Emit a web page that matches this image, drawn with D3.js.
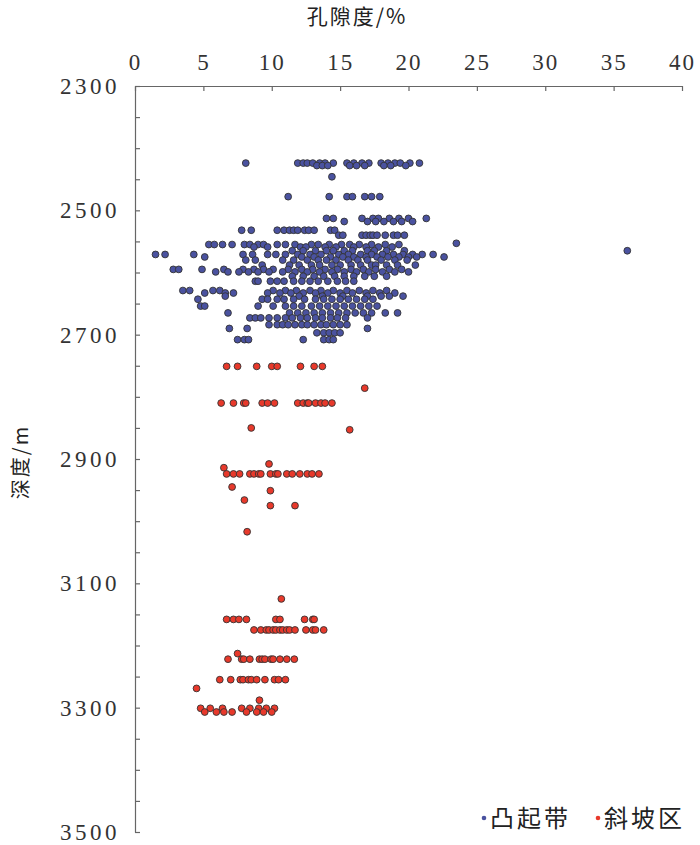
<!DOCTYPE html>
<html>
<head>
<meta charset="utf-8">
<script src="https://cdn.jsdelivr.net/npm/d3@7"></script>
<style>
  body { margin: 0; background: #fff; }
  svg text { fill: #222; }
</style>
</head>
<body>
<svg id="canvas"></svg>
<script>
var w = 700;
var h = 845;

// axis settings
var xTicks = [0, 5, 10, 15, 20, 25, 30, 35, 40];
var yTicks = [2300, 2500, 2700, 2900, 3100, 3300, 3500];
var xTitle = '孔隙度/%';
var yTitle = '深度/m';
var seriesNames = ['凸起带', '斜坡区'];
var seriesColours = ['#4a52a0', '#e8392b'];

// 凸起带: rows of [depth, porosity values]
var upliftRows = [
  [2424, [8.1, 11.9, 12.3, 12.6, 13.0, 13.5, 13.9, 14.5, 15.5, 16.0, 16.6, 17.1, 18.0, 18.5, 19.0, 19.4, 20.1, 20.8]],
  [2428, [13.3, 13.7, 14.1, 15.7, 16.2, 16.8, 18.2, 18.7, 19.8]],
  [2446, [14.4]],
  [2478, [11.2, 14.2, 15.5, 15.9, 16.8, 17.3, 17.9]],
  [2513, [14.0, 14.5, 16.6, 17.4, 17.8, 18.6, 19.3, 20.0, 21.3]],
  [2518, [15.3, 17.0, 17.6, 18.2, 18.9, 19.5, 20.3]],
  [2532, [7.8, 8.5, 10.4, 10.9, 11.3, 11.6, 11.9, 12.4, 12.7, 13.1, 14.3, 14.6]],
  [2540, [14.9, 15.2, 16.6, 16.9, 17.2, 17.4, 17.7, 18.3, 18.9, 19.2, 19.7]],
  [2553, [23.5]],
  [2555, [5.4, 5.8, 6.4, 7.1, 8.0, 8.4, 9.0, 9.4, 10.4, 11.0, 11.7, 12.9, 13.4, 14.2, 15.1, 15.7, 16.4, 17.3, 18.3, 19.3]],
  [2559, [8.7, 9.7, 12.1, 12.5, 13.9, 14.7, 16.0, 16.9, 17.8, 18.8]],
  [2565, [11.5, 12.3, 13.2, 14.0, 14.5, 15.3, 15.9, 17.0, 17.5, 18.4, 19.7, 36.0]],
  [2571, [1.5, 2.2, 4.3, 7.9, 8.6, 9.7, 10.3, 11.0, 11.9, 12.8, 13.6, 14.9, 15.6, 16.5, 17.3, 18.1, 18.9, 19.6, 20.3, 21.0, 21.8]],
  [2575, [5.1, 12.2, 13.1, 14.3, 15.2, 16.0, 16.9, 17.7, 18.5, 19.3, 20.0, 20.6, 22.6]],
  [2580, [8.1, 8.8, 10.8, 11.6, 12.6, 13.4, 14.0, 14.7, 15.6, 16.3, 17.0, 18.0, 19.0, 19.9]],
  [2588, [9.3, 11.3, 12.0, 12.9, 13.5, 14.4, 15.0, 15.8, 16.5, 17.3, 17.6, 18.4, 19.2, 20.5]],
  [2595, [2.8, 3.2, 4.9, 6.5, 7.9, 8.7, 9.4, 10.1, 11.2, 12.2, 13.0, 13.9, 14.8, 15.8, 16.7, 17.6, 18.6, 19.5]],
  [2599, [5.9, 6.8, 7.6, 8.3, 9.0, 9.8, 10.8, 11.7, 12.6, 13.5, 14.4, 15.3, 16.2, 17.1, 18.1, 19.0, 20.0]],
  [2606, [11.5, 12.3, 13.1, 13.8, 14.6, 15.3, 16.0, 16.8, 17.5, 18.4]],
  [2614, [8.8, 9.0, 9.9, 10.4, 10.9, 11.6, 12.2, 12.8, 13.4, 14.1, 14.8, 15.4, 16.0]],
  [2629, [3.5, 4.0, 5.7, 6.2, 10.1, 11.0, 11.8, 12.8, 13.6, 14.5, 15.5, 16.4, 17.4, 18.4]],
  [2633, [5.1, 6.6, 7.2, 9.7, 10.6, 11.4, 12.3, 13.2, 14.1, 15.0, 15.9, 16.9, 17.9, 19.0]],
  [2638, [6.6, 12.0, 13.7, 15.2, 17.0, 18.0, 18.6, 19.6]],
  [2643, [4.6, 9.3, 9.7, 10.4, 10.9, 11.6, 12.4, 13.2, 13.8, 14.4, 15.0, 15.6, 16.2, 16.8, 17.4]],
  [2654, [4.8, 5.1, 9.0, 10.1, 11.0, 11.6, 12.2, 12.9, 13.5, 14.1, 14.7, 15.3, 15.9, 16.5, 17.1, 17.7]],
  [2665, [6.8, 11.3, 11.9, 12.5, 13.1, 13.7, 14.3, 14.9, 15.5, 16.1, 16.7, 17.3, 18.3, 19.2]],
  [2673, [8.4, 8.8, 9.2, 9.8, 10.4, 11.0, 11.5, 12.1, 12.6, 13.2, 13.7, 14.3, 14.8, 15.4, 17.0]],
  [2684, [9.8, 10.4, 10.8, 11.2, 11.7, 12.2, 12.6, 13.1, 13.6, 14.0, 14.5, 15.0, 15.5]],
  [2690, [6.9, 8.2, 17.0]],
  [2697, [13.3, 13.8, 14.2, 14.6, 15.0]],
  [2708, [7.5, 8.0, 8.3, 12.3, 13.8, 14.2, 14.5]]
];

// 斜坡区: rows of [depth, porosity values]
var slopeRows = [
  [2751, [6.7, 7.5, 8.9, 10.0, 10.4, 12.1, 13.1, 13.7]],
  [2786, [16.8]],
  [2810, [6.3, 7.2, 7.95, 8.1, 9.3, 9.7, 10.2, 11.9, 12.3, 12.6, 12.7, 13.2, 13.6, 13.9, 14.4]],
  [2850, [8.5]],
  [2853, [15.7]],
  [2908, [9.8]],
  [2914, [6.5]],
  [2924, [6.7, 7.2, 7.65, 8.4, 8.7, 9.05, 9.2, 9.9, 10.3, 10.45, 11.1, 11.5, 12.05, 12.6, 12.95, 13.45]],
  [2945, [7.1]],
  [2951, [9.9]],
  [2966, [8.0]],
  [2975, [9.9, 11.7]],
  [3017, [8.2]],
  [3125, [10.7]],
  [3158, [6.7, 7.2, 7.6, 8.15, 10.3, 10.6, 12.4, 13.0, 13.1]],
  [3175, [8.7, 9.2, 9.6, 9.8, 10.1, 10.3, 10.6, 10.8, 11.1, 11.3, 11.7, 12.5, 13.0, 13.2, 13.8]],
  [3213, [7.5]],
  [3222, [6.8, 7.8, 7.95, 8.4, 9.1, 9.3, 9.5, 9.95, 10.1, 10.6, 11.1, 11.65]],
  [3255, [6.2, 7.0, 7.7, 7.9, 8.3, 8.5, 8.9, 9.5, 10.2, 10.5, 11.0]],
  [3269, [4.5]],
  [3288, [9.1]],
  [3301, [4.8, 5.5, 6.4, 7.8, 8.4, 9.05, 9.6, 10.2]],
  [3307, [5.1, 5.95, 6.5, 7.1, 8.15, 8.9, 9.4, 10.0]]
];

function rowsToPoints(rows){
  var pts = [];
  rows.forEach(function(r){
    r[1].forEach(function(x){ pts.push({x: x, d: r[0]}); });
  });
  return pts;
}

var serif = '"Liberation Serif", "DejaVu Serif", serif';
var cjk = '"Noto Sans CJK SC", sans-serif';

var svg = d3.select('#canvas')
  .attr('width', w)
  .attr('height', h);

var x = d3.scaleLinear().domain([0, 40]).range([135, 682]);
var y = d3.scaleLinear().domain([2300, 3500]).range([86, 832]);

// top axis, ticks pointing into the plot
var xAxis = d3.axisTop(x)
  .tickValues(xTicks)
  .tickSize(-5)
  .tickSizeOuter(0)
  .tickPadding(16);
var gx = svg.append('g')
  .attr('transform', 'translate(0,' + y(2300) + ')')
  .call(xAxis)
  .attr('font-family', null)
  .attr('font-size', null);
gx.selectAll('text')
  .style('font-family', serif)
  .style('font-size', '23px')
  .style('letter-spacing', '2px')
  .style('fill', '#333');

// left axis, minor tick every 50 m, label every 200 m
var yAxis = d3.axisLeft(y)
  .tickValues(d3.range(2300, 3501, 50))
  .tickSize(-5)
  .tickSizeOuter(0)
  .tickPadding(15)
  .tickFormat(function(d){ return yTicks.indexOf(d) >= 0 ? d : ''; });
var gy = svg.append('g')
  .attr('transform', 'translate(' + x(0) + ',0)')
  .call(yAxis)
  .attr('font-family', null)
  .attr('font-size', null);
gy.selectAll('text')
  .style('font-family', serif)
  .style('font-size', '23px')
  .style('letter-spacing', '3.5px')
  .style('fill', '#333');

svg.selectAll('.domain, .tick line')
  .attr('stroke', '#666')
  .attr('stroke-width', 1.2);

// titles
svg.append('text')
  .attr('x', 357)
  .attr('y', 24)
  .attr('text-anchor', 'middle')
  .style('font-family', cjk)
  .style('font-size', '21px')
  .style('letter-spacing', '2px')
  .text(xTitle);

svg.append('text')
  .attr('transform', 'translate(28,462) rotate(-90)')
  .attr('text-anchor', 'middle')
  .style('font-family', cjk)
  .style('font-size', '20px')
  .style('letter-spacing', '2px')
  .text(yTitle);

// points
var series = [rowsToPoints(upliftRows), rowsToPoints(slopeRows)];
series.forEach(function(pts, i){
  svg.append('g')
    .selectAll('circle')
    .data(pts)
    .enter()
    .append('circle')
    .attr('cx', function(d){ return x(d.x); })
    .attr('cy', function(d){ return y(d.d); })
    .attr('r', 3.4)
    .attr('fill', seriesColours[i])
    .attr('stroke', '#333')
    .attr('stroke-width', 0.9);
});

// legend
var legend = svg.append('g').attr('transform', 'translate(484,818)');
var lx = [0, 114];
seriesNames.forEach(function(name, i){
  legend.append('circle')
    .attr('cx', lx[i])
    .attr('cy', 0)
    .attr('r', 2.3)
    .attr('fill', seriesColours[i]);
  legend.append('text')
    .attr('x', lx[i] + 6)
    .attr('y', 9)
    .style('font-family', cjk)
    .style('font-size', '24px')
    .style('letter-spacing', '3px')
    .text(name);
});
</script>
</body>
</html>
